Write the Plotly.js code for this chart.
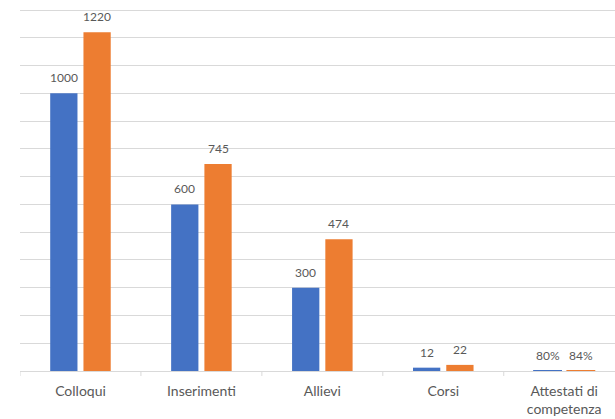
<!DOCTYPE html>
<html>
<head>
<meta charset="utf-8">
<script src="https://cdn.plot.ly/plotly-3.0.1.min.js"></script>
<style>html,body{margin:0;padding:0;background:#fff;}#chart{width:615px;height:419px;}</style>
</head>
<body>
<div id="chart"></div>
<script>
const categories = ["Colloqui", "Inserimenti", "Allievi", "Corsi", "Attestati di<br>competenza"];
const series1 = [1000, 600, 300, 12, 0.80];
const series2 = [1220, 745, 474, 22, 0.84];
const percentCategory = 4;

function labelsFor(vals) {
  return vals.map((v, i) => i === percentCategory ? Math.round(v * 100) + '%' : String(v));
}
function lineWidths(vals) {
  return vals.map((v, i) => i === percentCategory ? 1.6 : 0);
}

const blue = '#4472C4', orange = '#ED7D31';
const fam = 'Lato, "Open Sans", sans-serif';
const labelFont = {family: fam, size: 12, color: '#595959'};
const bargap = 0.45;
const slot = (1 - bargap) / 2;
const xs = categories.map((c, i) => i);

const traces = [
  {type: 'bar', x: xs, y: series1, name: 'Serie 1',
   marker: {color: blue, line: {color: blue, width: lineWidths(series1)}}, hoverinfo: 'none'},
  {type: 'bar', x: xs, y: series2, name: 'Serie 2',
   marker: {color: orange, line: {color: orange, width: lineWidths(series2)}}, hoverinfo: 'none'}
];

const annotations = [];
[[series1, -slot / 2], [series2, slot / 2]].forEach(([vals, off]) => {
  const labels = labelsFor(vals);
  vals.forEach((v, i) => {
    annotations.push({
      xref: 'x', yref: 'y', x: i + off, y: v, text: labels[i],
      showarrow: false, xanchor: 'center', yanchor: 'bottom', yshift: 6,
      font: labelFont
    });
  });
});

const layout = {
  width: 615, height: 419,
  margin: {l: 20, r: 0, t: 7, b: 48},
  paper_bgcolor: '#fff', plot_bgcolor: '#fff',
  showlegend: false,
  barmode: 'group', bargap: bargap, bargroupgap: 0.18,
  font: {family: fam, color: '#595959'},
  xaxis: {
    type: 'linear', range: [-0.5, 4.42],
    tickvals: xs, ticktext: categories,
    tickfont: {size: 14, color: '#595959'}, ticklabelstandoff: 7,
    showline: true, linecolor: '#d9d9d9', linewidth: 1,
    showgrid: false, zeroline: false, ticks: '', fixedrange: true
  },
  yaxis: {
    range: [0, 1310.8], tick0: 0, dtick: 100, showticklabels: false,
    showgrid: true, gridcolor: '#d9d9d9', gridwidth: 1,
    zeroline: false, showline: false, ticks: ''
  },
  annotations: annotations,
  shapes: [-0.5, 0.5, 1.5, 2.5, 3.5].map(v => ({
    type: 'line', xref: 'x', yref: 'paper', x0: v, x1: v, y0: 0, y1: -0.0137,
    line: {color: '#d9d9d9', width: 1}
  }))
};

Plotly.newPlot('chart', traces, layout, {staticPlot: true, displayModeBar: false});
</script>
</body>
</html>
